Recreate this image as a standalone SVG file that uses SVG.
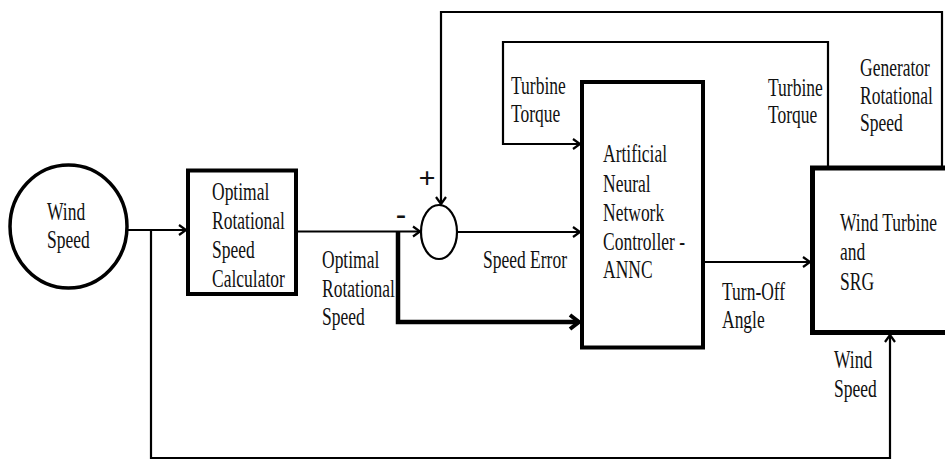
<svg xmlns="http://www.w3.org/2000/svg" width="945" height="460" viewBox="0 0 945 460">
<style>
text{font-family:'Liberation Serif','Times New Roman',serif;font-size:25px;fill:#111}
.box{fill:#fff;stroke:#000;stroke-width:4}
.ln{fill:none;stroke:#000;stroke-width:2.2}
.thick{fill:none;stroke:#000;stroke-width:4.5}
.sign{font-weight:bold;font-size:30px}
</style>
<defs>
<marker id="ah" markerUnits="userSpaceOnUse" markerWidth="14" markerHeight="14" refX="10" refY="7" orient="auto">
<path d="M3,2 L10,7 L3,12" fill="none" stroke="#000" stroke-width="2.2"/>
</marker>
<marker id="ahb" markerUnits="userSpaceOnUse" markerWidth="18" markerHeight="18" refX="13" refY="9" orient="auto">
<path d="M4,2 L13,9 L4,16" fill="none" stroke="#000" stroke-width="4"/>
</marker>
</defs>
<rect width="945" height="460" fill="#fff"/>

<g id="connectors">
<path class="ln" d="M127,230 H186" marker-end="url(#ah)"/>
<path class="ln" d="M151,230 V458 H890 V335" marker-end="url(#ah)"/>
<path class="ln" d="M298,231.5 H420" marker-end="url(#ah)"/>
<path class="thick" d="M398,231.5 V322 H579" marker-end="url(#ahb)"/>
<path class="ln" d="M457,232 H580" marker-end="url(#ah)"/>
<path class="ln" d="M705,262 H810" marker-end="url(#ah)"/>
<path class="ln" d="M828,167 V42 H503 V144 H580" marker-end="url(#ah)"/>
<path class="ln" d="M942,167 V12 H441 V204" marker-end="url(#ah)"/>
</g>

<g id="wind-speed">
<ellipse cx="68.5" cy="226.5" rx="58.5" ry="61.5" fill="#fff" stroke="#000" stroke-width="3.5"/>
<text transform="translate(47,220) scale(0.7,1)"><tspan x="0" y="0">Wind</tspan><tspan x="0" y="28">Speed</tspan></text>
</g>

<g id="ors-calculator">
<rect class="box" x="188" y="170.5" width="108" height="123.5"/>
<text transform="translate(212,200) scale(0.7,1)"><tspan x="0" y="0">Optimal</tspan><tspan x="0" y="29">Rotational</tspan><tspan x="0" y="58">Speed</tspan><tspan x="0" y="87">Calculator</tspan></text>
</g>

<g id="sum">
<ellipse cx="439" cy="232" rx="18" ry="27" fill="#fff" stroke="#000" stroke-width="2.2"/>
<text class="sign" x="427" y="188" text-anchor="middle">+</text>
<text class="sign" x="401" y="224" text-anchor="middle">-</text>
</g>

<g id="annc">
<rect class="box" x="582" y="82" width="121" height="265.5"/>
<text transform="translate(603,162) scale(0.7,1)"><tspan x="0" y="0">Artificial</tspan><tspan x="0" y="30">Neural</tspan><tspan x="0" y="59">Network</tspan><tspan x="0" y="88">Controller -</tspan><tspan x="0" y="116">ANNC</tspan></text>
</g>

<g id="wind-turbine-srg">
<rect x="812.5" y="168" width="140" height="164.5" fill="#fff" stroke="#000" stroke-width="5"/>
<text transform="translate(840,231) scale(0.7,1)"><tspan x="0" y="0">Wind Turbine</tspan><tspan x="0" y="29">and</tspan><tspan x="0" y="59">SRG</tspan></text>
</g>

<g id="labels">
<text transform="translate(322,268) scale(0.7,1)"><tspan x="0" y="0">Optimal</tspan><tspan x="0" y="29">Rotational</tspan><tspan x="0" y="57">Speed</tspan></text>
<text transform="translate(483,268) scale(0.7,1)">Speed Error</text>
<text transform="translate(511,94) scale(0.7,1)"><tspan x="0" y="0">Turbine</tspan><tspan x="0" y="28">Torque</tspan></text>
<text transform="translate(768,96) scale(0.7,1)"><tspan x="0" y="0">Turbine</tspan><tspan x="0" y="27">Torque</tspan></text>
<text transform="translate(860,76) scale(0.7,1)"><tspan x="0" y="0">Generator</tspan><tspan x="0" y="28">Rotational</tspan><tspan x="0" y="55">Speed</tspan></text>
<text transform="translate(722,300) scale(0.7,1)"><tspan x="0" y="0">Turn-Off</tspan><tspan x="0" y="28">Angle</tspan></text>
<text transform="translate(834,368) scale(0.7,1)"><tspan x="0" y="0">Wind</tspan><tspan x="0" y="29">Speed</tspan></text>
</g>
</svg>
